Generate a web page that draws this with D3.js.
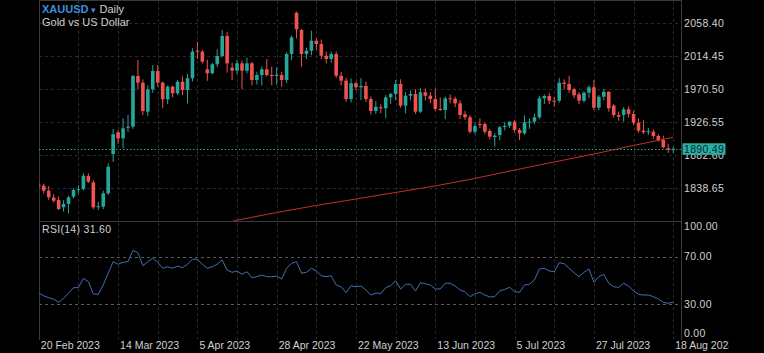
<!DOCTYPE html>
<html>
<head>
<meta charset="utf-8">
<script src="https://cdn.jsdelivr.net/npm/d3@7"></script>
<style>
  html, body { margin: 0; padding: 0; background: #000; }
  svg { display: block; font-family: "Liberation Sans", Arial, sans-serif; }
</style>
</head>
<body>
<svg id="chart" width="764" height="353"></svg>
<script>
// daily candles: date, open, high, low, close
const candles = [
    ["2023-02-20", 1842, 1847, 1837, 1841.5],
    ["2023-02-21", 1841.3, 1844, 1831, 1834.7],
    ["2023-02-22", 1834.7, 1841, 1822.5, 1826],
    ["2023-02-23", 1825.5, 1830, 1819, 1821.3],
    ["2023-02-24", 1822.3, 1827, 1809, 1810.3],
    ["2023-02-27", 1812.6, 1822, 1806.7, 1817],
    ["2023-02-28", 1817, 1828, 1804.5, 1825.9],
    ["2023-03-01", 1826.7, 1838, 1824, 1835.6],
    ["2023-03-02", 1836, 1842, 1831, 1836.6],
    ["2023-03-03", 1836.9, 1857.8, 1835, 1854.6],
    ["2023-03-06", 1854.2, 1857.8, 1845, 1846.6],
    ["2023-03-07", 1845.8, 1849, 1810, 1812.6],
    ["2023-03-08", 1813.4, 1820, 1809, 1814],
    ["2023-03-09", 1813.4, 1835, 1810, 1831.2],
    ["2023-03-10", 1831.2, 1871, 1829, 1866.6],
    ["2023-03-13", 1883.5, 1917, 1873, 1910],
    ["2023-03-14", 1912.4, 1915, 1897, 1904.4],
    ["2023-03-15", 1904.4, 1931, 1891, 1917.8],
    ["2023-03-16", 1918.5, 1935.5, 1913, 1920],
    ["2023-03-17", 1920, 1989, 1917, 1987.4],
    ["2023-03-20", 1987.4, 2008.7, 1970, 1978.5],
    ["2023-03-21", 1978.5, 1983, 1935.5, 1940.8],
    ["2023-03-22", 1939.9, 1975, 1934, 1969.7],
    ["2023-03-23", 1969.7, 2002, 1965, 1994.1],
    ["2023-03-24", 1994.1, 2002, 1973, 1978.5],
    ["2023-03-27", 1978.5, 1980, 1944.4, 1956.4],
    ["2023-03-28", 1956.4, 1975, 1950, 1973.2],
    ["2023-03-29", 1973.2, 1974.5, 1959, 1964.4],
    ["2023-03-30", 1964.4, 1982, 1962, 1979.8],
    ["2023-03-31", 1979.8, 1987, 1962, 1968.8],
    ["2023-04-03", 1968.8, 1990, 1951, 1984.4],
    ["2023-04-04", 1984.4, 2024.3, 1980, 2019.8],
    ["2023-04-05", 2021.1, 2033, 2010, 2019.8],
    ["2023-04-06", 2019.8, 2022, 2004, 2006.5],
    ["2023-04-10", 1996.3, 2009, 1981, 1991],
    ["2023-04-11", 1991, 2005, 1990, 2003],
    ["2023-04-12", 2003, 2023, 1999, 2014],
    ["2023-04-13", 2014, 2048.7, 2012, 2040.7],
    ["2023-04-14", 2040.7, 2046.4, 1992, 2004.3],
    ["2023-04-17", 1998.5, 2005, 1982, 1994.5],
    ["2023-04-18", 1994.5, 2009, 1990, 2004.3],
    ["2023-04-19", 2004.3, 2008, 1969.7, 1994.5],
    ["2023-04-20", 1994.5, 2012, 1991, 2004.3],
    ["2023-04-21", 2004.3, 2006, 1975, 1982.1],
    ["2023-04-24", 1982.1, 1993, 1976, 1988.7],
    ["2023-04-25", 1988.7, 2000, 1975, 1996.3],
    ["2023-04-26", 1996.3, 2010, 1987, 1988.7],
    ["2023-04-27", 1988.7, 2000, 1975, 1988],
    ["2023-04-28", 1988, 1999, 1976, 1988.9],
    ["2023-05-01", 1988.7, 1993, 1973, 1982.1],
    ["2023-05-02", 1982.1, 2019, 1978, 2016.7],
    ["2023-05-03", 2016.7, 2041, 2008.7, 2038.9],
    ["2023-05-04", 2071.7, 2073, 2037.6, 2049.6],
    ["2023-05-05", 2048.7, 2050, 1999.8, 2016.7],
    ["2023-05-08", 2016.7, 2025, 2010, 2021.1],
    ["2023-05-09", 2021.1, 2047.7, 2015, 2034.4],
    ["2023-05-10", 2034.4, 2038, 2022, 2030],
    ["2023-05-11", 2030, 2036, 2010, 2014.4],
    ["2023-05-12", 2014.4, 2020, 2004, 2010.1],
    ["2023-05-15", 2010.1, 2020, 2005, 2016.7],
    ["2023-05-16", 2016.7, 2020, 1985, 1987.8],
    ["2023-05-17", 1987.8, 1993, 1975, 1981.2],
    ["2023-05-18", 1981.2, 1985, 1953.2, 1956.8],
    ["2023-05-19", 1956.8, 1984, 1952, 1977.7],
    ["2023-05-22", 1977.7, 1980, 1968, 1972.4],
    ["2023-05-23", 1972.4, 1984.4, 1955.4, 1974.1],
    ["2023-05-24", 1974.1, 1980, 1953, 1956.8],
    ["2023-05-25", 1956.8, 1960, 1936, 1940.8],
    ["2023-05-26", 1940.8, 1954, 1937, 1946.5],
    ["2023-05-29", 1945.7, 1950, 1937.7, 1944.8],
    ["2023-05-30", 1944.4, 1962, 1931.1, 1959],
    ["2023-05-31", 1959, 1965, 1950, 1963.4],
    ["2023-06-01", 1963.4, 1982.1, 1955, 1976.8],
    ["2023-06-02", 1976.8, 1983, 1945, 1947.9],
    ["2023-06-05", 1947.9, 1966, 1937.7, 1961.2],
    ["2023-06-06", 1961.2, 1968, 1955, 1963.4],
    ["2023-06-07", 1963.4, 1969.7, 1937, 1939.9],
    ["2023-06-08", 1939.9, 1971, 1938, 1965.7],
    ["2023-06-09", 1965.7, 1971, 1955, 1961.2],
    ["2023-06-12", 1961.2, 1966, 1951, 1956.8],
    ["2023-06-13", 1956.8, 1971, 1941, 1943.5],
    ["2023-06-14", 1943.5, 1959, 1941, 1942.1],
    ["2023-06-15", 1942.1, 1960, 1930, 1957.7],
    ["2023-06-16", 1957.7, 1963, 1951, 1957.2],
    ["2023-06-19", 1957.2, 1960, 1946, 1951],
    ["2023-06-20", 1951, 1955, 1930, 1935.5],
    ["2023-06-21", 1936.4, 1941, 1929, 1932.4],
    ["2023-06-22", 1932.4, 1935, 1911, 1913.2],
    ["2023-06-23", 1913.2, 1925, 1910, 1920.8],
    ["2023-06-26", 1923.5, 1931, 1918, 1922.2],
    ["2023-06-27", 1923.5, 1925, 1910, 1913.2],
    ["2023-06-28", 1914.2, 1917, 1903, 1906.6],
    ["2023-06-29", 1906, 1911, 1893.3, 1908],
    ["2023-06-30", 1908.8, 1921, 1902, 1919.1],
    ["2023-07-03", 1919.5, 1926, 1915, 1921],
    ["2023-07-04", 1921.2, 1927, 1918, 1926.6],
    ["2023-07-05", 1926.6, 1929, 1912, 1915.5],
    ["2023-07-06", 1915.5, 1918, 1902.2, 1911.1],
    ["2023-07-07", 1911.1, 1935, 1909, 1925.8],
    ["2023-07-10", 1925.8, 1931, 1917, 1926.6],
    ["2023-07-11", 1926.6, 1937, 1923, 1932.4],
    ["2023-07-12", 1932.4, 1961, 1930, 1957.7],
    ["2023-07-13", 1957.7, 1963, 1950, 1960.8],
    ["2023-07-14", 1960.8, 1965, 1950, 1954.5],
    ["2023-07-17", 1954.5, 1959.8, 1946.5, 1954],
    ["2023-07-18", 1954.5, 1985, 1952, 1978.5],
    ["2023-07-19", 1978.5, 1983, 1970, 1976.8],
    ["2023-07-20", 1976.8, 1987.8, 1965, 1968.8],
    ["2023-07-21", 1969.7, 1972, 1958, 1961.7],
    ["2023-07-24", 1963, 1966, 1950, 1954.5],
    ["2023-07-25", 1954.5, 1967, 1952, 1965.2],
    ["2023-07-26", 1965.2, 1975, 1958, 1972.4],
    ["2023-07-27", 1972.4, 1982.1, 1942, 1945.2],
    ["2023-07-28", 1945.2, 1962, 1942, 1959.8],
    ["2023-07-31", 1959.8, 1970, 1955, 1966.3],
    ["2023-08-01", 1966.3, 1967, 1940, 1944.4],
    ["2023-08-02", 1948, 1950, 1932, 1935.5],
    ["2023-08-03", 1935.5, 1940, 1928, 1933.2],
    ["2023-08-04", 1935.5, 1946, 1926.6, 1943],
    ["2023-08-07", 1943, 1947, 1932, 1936.8],
    ["2023-08-08", 1936.8, 1941, 1922, 1925.2],
    ["2023-08-09", 1925.2, 1931, 1912, 1914.6],
    ["2023-08-10", 1914.6, 1928.4, 1910, 1912.5],
    ["2023-08-11", 1913, 1918, 1909, 1913.8],
    ["2023-08-14", 1913.2, 1916, 1904, 1907.5],
    ["2023-08-15", 1907.5, 1910, 1900, 1902.2],
    ["2023-08-16", 1902.2, 1907.9, 1891, 1892.5],
    ["2023-08-17", 1891.1, 1897, 1885, 1889.2],
    ["2023-08-18", 1889.2, 1893, 1885, 1890.49]
];

// RSI(14), one value per candle
const rsiValues = [
    39.1, 37, 35.3, 34.2, 31.4, 34.8, 39.1, 43.8, 43.8, 51.7,
    48.9, 38.5, 38.2, 46.1, 56, 65.8, 63.6, 65.3, 65.8, 75.4,
    73.4, 62.4, 65.8, 68.6, 65.3, 60.2, 61.5, 60.2, 62.1, 60.7,
    63.6, 67.8, 67.8, 63.6, 60.2, 61.5, 63.6, 67.2, 58.7, 56.8,
    57.9, 55.1, 57.3, 52.2, 53.1, 54.5, 53.1, 53.1, 53.7, 51.1,
    60.2, 64.4, 65.8, 56, 56.8, 60.2, 57.9, 53.9, 53.1, 53.9,
    46.1, 44.6, 39.6, 45.5, 44.6, 45.2, 41.8, 37.6, 39.3, 38.8,
    43.8, 45.5, 49.7, 42.7, 46.7, 46.7, 41, 48, 47.2, 46.1,
    42.7, 42.7, 47.5, 47.5, 45.2, 41.8, 40.4, 36.2, 38.5, 39.9,
    37.6, 35.9, 36.2, 41, 42.4, 44.1, 40.4, 39.9, 46.1, 46.7,
    50.3, 59.6, 60.2, 57.9, 57.3, 64.9, 64.1, 60.2, 56.5, 53.1,
    56.8, 59.6, 48.4, 53.1, 55.1, 47.5, 44.6, 44.1, 47.5, 45.2,
    41, 38.2, 37.6, 37.6, 36.2, 34.2, 31.4, 30.6, 31.6
];

// long moving average (red line), read at candle positions
const maIndex = [38, 40, 48, 56, 64, 72, 80, 88, 96, 104, 112, 120, 128];
const maValues = [1792.2, 1795.4, 1805.6, 1815, 1823.6, 1832.3, 1841, 1851, 1862.2, 1872.9, 1883.5, 1894.9, 1905.8];

const priceTicks = [2058.40, 2014.45, 1970.50, 1926.55, 1882.60, 1838.65];
const rsiTicks = [100, 70, 30, 0];
const rsiLevels = [70, 30];
const dateTickIndex = [0, 16, 32, 48, 64, 80, 96, 112, 128];
const dateTickLabels = ["20 Feb 2023", "14 Mar 2023", "5 Apr 2023", "28 Apr 2023", "22 May 2023",
    "13 Jun 2023", "5 Jul 2023", "27 Jul 2023", "18 Aug 2023"];
const lastPrice = 1890.49;
const lastRsi = 31.60;

const svg = d3.select("#chart");
const width = +svg.attr("width");
const height = +svg.attr("height");

const upColor = "#26a69a";
const downColor = "#ef5350";
const gridColor = "#2a2a2a";
const textColor = "#d0d0d0";

const plotLeft = 39, plotRight = 681;
const mainTop = 1, mainBottom = 221;
const rsiTop = 221, rsiBottom = 339.5;

svg.append("rect").attr("width", width).attr("height", height).attr("fill", "#000");

const x = d3.scaleLinear().domain([0, 128]).range([38.8, 673.2]);
const y = d3.scaleLinear().domain([1794.3, 2087.3]).range([mainBottom, mainTop]);
const yRsi = d3.scaleLinear().domain([0, 100]).range([rsiBottom, 221.2]);

const defs = svg.append("defs");
defs.append("clipPath").attr("id", "clipMain").append("rect")
    .attr("x", plotLeft).attr("y", mainTop).attr("width", plotRight - plotLeft).attr("height", mainBottom - mainTop);
defs.append("clipPath").attr("id", "clipRsi").append("rect")
    .attr("x", plotLeft).attr("y", rsiTop).attr("width", plotRight - plotLeft).attr("height", rsiBottom - rsiTop);
defs.append("clipPath").attr("id", "clipDates").append("rect")
    .attr("x", 0).attr("y", rsiBottom).attr("width", 729).attr("height", height - rsiBottom);

// vertical grid, every 8 candles, in both panels
const gridIdx = d3.range(0, 129, 8);
svg.append("g")
    .selectAll("line")
    .data(gridIdx)
    .join("line")
    .attr("x1", d => Math.round(x(d)) + 0.5)
    .attr("x2", d => Math.round(x(d)) + 0.5)
    .attr("y1", mainTop)
    .attr("y2", rsiBottom)
    .attr("stroke", gridColor)
    .attr("stroke-dasharray", "3,3");

// horizontal grid, price panel
svg.append("g")
    .selectAll("line")
    .data(priceTicks)
    .join("line")
    .attr("x1", plotLeft)
    .attr("x2", plotRight)
    .attr("y1", d => Math.round(y(d)) + 0.5)
    .attr("y2", d => Math.round(y(d)) + 0.5)
    .attr("stroke", gridColor)
    .attr("stroke-dasharray", "3,3");

// RSI 70 / 30 levels
svg.append("g")
    .selectAll("line")
    .data(rsiLevels)
    .join("line")
    .attr("x1", plotLeft)
    .attr("x2", plotRight)
    .attr("y1", d => Math.round(yRsi(d)) + 0.5)
    .attr("y2", d => Math.round(yRsi(d)) + 0.5)
    .attr("stroke", "#5a5a5a")
    .attr("stroke-dasharray", "3,3");

// panel borders
const borders = svg.append("g").attr("stroke", "#3a3a3a").attr("shape-rendering", "crispEdges");
borders.append("line").attr("x1", plotLeft).attr("x2", plotLeft).attr("y1", 0).attr("y2", rsiBottom);
borders.append("line").attr("x1", plotRight).attr("x2", plotRight).attr("y1", 0).attr("y2", rsiBottom);
borders.append("line").attr("x1", plotLeft).attr("x2", plotRight).attr("y1", rsiTop).attr("y2", rsiTop);
borders.append("line").attr("x1", plotLeft).attr("x2", plotRight).attr("y1", 0.5).attr("y2", 0.5);

// candles
const main = svg.append("g").attr("clip-path", "url(#clipMain)");
const bodyW = 3.6;

const candle = main.append("g")
    .selectAll("g")
    .data(candles)
    .join("g")
    .attr("fill", d => d[4] >= d[1] ? upColor : downColor)
    .attr("stroke", d => d[4] >= d[1] ? upColor : downColor);

candle.append("line")
    .attr("x1", (d, i) => x(i))
    .attr("x2", (d, i) => x(i))
    .attr("y1", d => y(d[2]))
    .attr("y2", d => y(d[3]))
    .attr("stroke-width", 1);

candle.append("rect")
    .attr("stroke", "none")
    .attr("x", (d, i) => x(i) - bodyW / 2)
    .attr("width", bodyW)
    .attr("y", d => y(Math.max(d[1], d[4])))
    .attr("height", d => Math.max(1, Math.abs(y(d[1]) - y(d[4]))));

// moving average
main.append("path")
    .datum(maIndex.map((d, i) => [d, maValues[i]]))
    .attr("fill", "none")
    .attr("stroke", "#c2302a")
    .attr("stroke-width", 1)
    .attr("d", d3.line().x(d => x(d[0])).y(d => y(d[1])));

// last price dotted line
main.append("line")
    .attr("x1", plotLeft)
    .attr("x2", plotRight)
    .attr("y1", Math.round(y(lastPrice)) + 0.5)
    .attr("y2", Math.round(y(lastPrice)) + 0.5)
    .attr("stroke", upColor)
    .attr("stroke-dasharray", "1.5,2");

// RSI line
svg.append("g").attr("clip-path", "url(#clipRsi)")
    .append("path")
    .datum(rsiValues)
    .attr("fill", "none")
    .attr("stroke", "#4170b5")
    .attr("stroke-width", 1)
    .attr("d", d3.line().x((d, i) => x(i)).y(d => yRsi(d)));

// price axis
const priceAxis = svg.append("g")
    .attr("transform", `translate(${plotRight},0)`)
    .call(d3.axisRight(y).tickValues(priceTicks).tickFormat(d3.format(".2f")).tickSize(0).tickPadding(3));
priceAxis.select(".domain").remove();
priceAxis.selectAll("text")
    .attr("fill", textColor)
    .attr("font-size", "10.5px")
    .attr("font-family", "Liberation Sans, Arial, sans-serif")
    .attr("letter-spacing", "0.3px");

// RSI axis (top and bottom labels kept inside the panel)
svg.append("g")
    .selectAll("text")
    .data(rsiTicks)
    .join("text")
    .attr("x", plotRight + 3)
    .attr("y", d => Math.min(Math.max(yRsi(d), rsiTop + 5.5), rsiBottom - 6.5))
    .attr("dy", "0.35em")
    .attr("fill", textColor)
    .attr("font-size", "10.5px")
    .attr("letter-spacing", "0.3px")
    .text(d => d3.format(".2f")(d));

// last price label
const lastY = y(lastPrice);
svg.append("rect")
    .attr("x", plotRight + 1.5)
    .attr("y", lastY - 5.5)
    .attr("width", 43)
    .attr("height", 11.5)
    .attr("fill", "#2ab0a2");
svg.append("text")
    .attr("x", plotRight + 3)
    .attr("y", lastY)
    .attr("dy", "0.36em")
    .attr("fill", "#0b2530")
    .attr("font-size", "10.5px")
    .attr("letter-spacing", "0.3px")
    .text(d3.format(".2f")(lastPrice));

// date axis, cut at the right like the reference
const dateAxis = svg.append("g")
    .attr("clip-path", "url(#clipDates)")
    .append("g")
    .attr("transform", `translate(0,${rsiBottom})`)
    .call(d3.axisBottom(x).tickValues(dateTickIndex)
        .tickFormat((d, i) => dateTickLabels[i]).tickSize(0).tickPadding(2));
dateAxis.select(".domain").remove();
dateAxis.selectAll("text")
    .attr("fill", textColor)
    .attr("font-size", "10.5px")
    .attr("font-family", "Liberation Sans, Arial, sans-serif")
    .attr("text-anchor", "start")
    .attr("dx", "1.5");

// legends
const title = svg.append("text")
    .attr("x", 42)
    .attr("y", 13)
    .attr("font-size", "11px");
title.append("tspan").attr("fill", "#3d8fdc").attr("font-weight", "bold").text("XAUUSD");
title.append("tspan").attr("fill", "#3d8fdc").attr("font-size", "9px").attr("dx", 3).text("▾");
title.append("tspan").attr("fill", textColor).attr("dx", 3).text("Daily");

svg.append("text")
    .attr("x", 42)
    .attr("y", 25.5)
    .attr("font-size", "11px")
    .attr("fill", textColor)
    .text("Gold vs US Dollar");

svg.append("text")
    .attr("x", 42)
    .attr("y", 233)
    .attr("font-size", "10.5px")
    .attr("letter-spacing", "0.3px")
    .attr("fill", textColor)
    .text(`RSI(14) ${d3.format(".2f")(lastRsi)}`);
</script>
</body>
</html>
